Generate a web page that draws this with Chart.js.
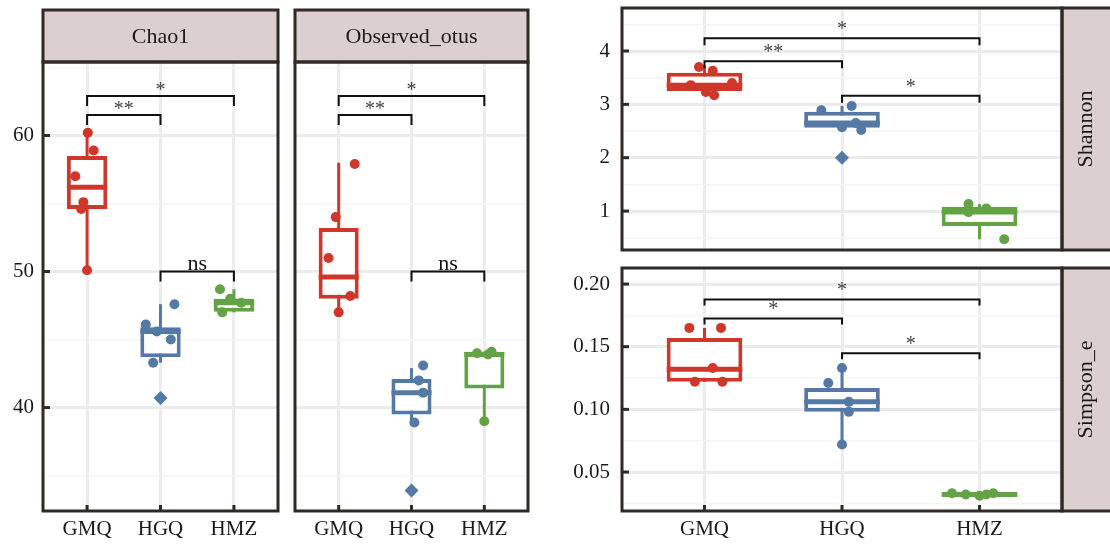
<!DOCTYPE html>
<html>
<head>
<meta charset="utf-8">
<script src="https://cdn.jsdelivr.net/npm/chart.js@4.4.0/dist/chart.umd.min.js"></script>
<style>
  body { margin: 0; background: #fff; }
  #wrap { position: relative; width: 1110px; height: 545px; overflow: hidden; }
  canvas { position: absolute; }
</style>
</head>
<body>
<div id="wrap">
  <canvas id="chao" width="285" height="545" style="left:0px;top:0px;width:285px;height:545px"></canvas>
  <canvas id="otus" width="250" height="545" style="left:285px;top:0px;width:250px;height:545px"></canvas>
  <canvas id="shannon" width="570" height="258" style="left:540px;top:0px;width:570px;height:258px"></canvas>
  <canvas id="simpson" width="570" height="287" style="left:540px;top:258px;width:570px;height:287px"></canvas>
</div>
<script>
const groups = ['GMQ', 'HGQ', 'HMZ'];
const groupColors = ['#d1362a', '#5479a4', '#63a346'];

// box stats per group: [lower whisker, q1, median, q3, upper whisker]
const chaoStats = [[50.1, 54.6, 56.2, 58.5, 60.2], [43.3, 43.7, 45.6, 45.9, 47.6], [47.0, 47.05, 47.7, 48.0, 48.7]];
const chaoPoints = [[60.2, 58.9, 57.0, 55.1, 54.6, 50.1], [47.6, 46.1, 45.0, 43.3, 45.6], [48.7, 47.0, 47.7, 48.0]];
const chaoJitter = [[0.01, 0.09, -0.16, -0.05, -0.08, 0], [0.19, -0.2, 0.14, -0.1, -0.05], [-0.19, -0.16, 0.1, -0.05]];
const chaoOutliers = [[], [40.7], []];

const otusStats = [[47.0, 48.0, 49.6, 53.2, 58.0], [38.9, 39.5, 41.1, 42.1, 42.9], [39.0, 41.4, 43.9, 44.1, 44.1]];
const otusPoints = [[57.9, 54.0, 51.0, 48.2, 47.0], [43.1, 42.0, 41.1, 38.9], [44.0, 44.1, 43.9, 39.0]];
const otusJitter = [[0.22, -0.04, -0.14, 0.16, 0], [0.16, 0.1, 0.16, 0.04], [-0.1, 0.1, 0.05, 0]];
const otusOutliers = [[], [33.9], []];

const shannonStats = [[3.17, 3.25, 3.36, 3.59, 3.72], [2.52, 2.56, 2.65, 2.86, 2.97], [0.47, 0.72, 0.98, 1.08, 1.13]];
const shannonPoints = [[3.70, 3.63, 3.17, 3.23, 3.40, 3.36], [2.89, 2.97, 2.52, 2.57, 2.65], [1.13, 0.98, 0.47, 1.05]];
const shannonJitter = [[-0.04, 0.06, 0.07, 0.01, 0.2, -0.1], [-0.15, 0.07, 0.14, 0, 0.1], [-0.08, -0.08, 0.18, 0.05]];
const shannonOutliers = [[], [2.0], []];

const simpsonStats = [[0.122, 0.122, 0.132, 0.157, 0.165], [0.072, 0.098, 0.106, 0.117, 0.133], [0.030, 0.031, 0.032, 0.033, 0.034]];
const simpsonPoints = [[0.165, 0.165, 0.133, 0.122, 0.122], [0.133, 0.121, 0.106, 0.098, 0.072], [0.033, 0.032, 0.031, 0.032, 0.033]];
const simpsonJitter = [[-0.11, 0.12, 0.06, -0.07, 0.13], [0, -0.1, 0.05, 0.05, 0], [-0.2, -0.1, 0, 0.05, 0.1]];
const simpsonOutliers = [[], [], []];

// tick values and labels
const chaoTicks = [40, 50, 60];
const chaoTickLabels = ['40', '50', '60'];
const chaoMinor = [35, 45, 55, 65];
const shannonTicks = [1, 2, 3, 4];
const shannonTickLabels = ['1', '2', '3', '4'];
const shannonMinor = [0.5, 1.5, 2.5, 3.5, 4.5];
const simpsonTicks = [0.05, 0.10, 0.15, 0.20];
const simpsonTickLabels = ['0.05', '0.10', '0.15', '0.20'];
const simpsonMinor = [0.025, 0.075, 0.125, 0.175];

// significance brackets: [from group, to group, height, label]
const chaoSig = [[0, 1, 61.5, '**'], [0, 2, 62.9, '*'], [1, 2, 50.0, 'ns']];
const otusSig = [[0, 1, 61.5, '**'], [0, 2, 62.9, '*'], [1, 2, 50.0, 'ns']];
const shannonSig = [[0, 1, 3.81, '**'], [0, 2, 4.24, '*'], [1, 2, 3.16, '*']];
const simpsonSig = [[0, 1, 0.1726, '*'], [0, 2, 0.1877, '*'], [1, 2, 0.1447, '*']];

const SERIF = "'Liberation Serif', 'Times New Roman', serif";
const DARK = '#2e2b27';
const STRIP = '#dccfcf';

function panelPlugin(cfg) {
  return {
    id: 'panel_' + cfg.strip,
    beforeDatasetsDraw(chart) {
      const ctx = chart.ctx, xs = chart.scales.x, ys = chart.scales.y;
      ctx.save();
      ctx.lineWidth = 3;
      cfg.stats.forEach((s, g) => {
        const x = xs.getPixelForValue(g);
        ctx.strokeStyle = groupColors[g];
        ctx.beginPath();
        ctx.moveTo(x, ys.getPixelForValue(s[0]));
        ctx.lineTo(x, ys.getPixelForValue(s[4]));
        ctx.stroke();
      });
      ctx.restore();
    },
    afterDatasetDraw(chart, args) {
      if (args.meta.type !== 'bar') return;
      const ctx = chart.ctx, ys = chart.scales.y;
      ctx.save();
      ctx.lineWidth = 5;
      args.meta.data.forEach((bar, g) => {
        const y = ys.getPixelForValue(cfg.stats[g][2]);
        ctx.strokeStyle = groupColors[g];
        ctx.beginPath();
        ctx.moveTo(bar.x - bar.width / 2, y);
        ctx.lineTo(bar.x + bar.width / 2, y);
        ctx.stroke();
      });
      ctx.restore();
    },
    afterDraw(chart) {
      const ctx = chart.ctx, a = chart.chartArea, xs = chart.scales.x, ys = chart.scales.y;
      ctx.save();
      // brackets
      ctx.strokeStyle = '#111';
      ctx.lineWidth = 2;
      cfg.sig.forEach(([g1, g2, v, label]) => {
        const x1 = xs.getPixelForValue(g1), x2 = xs.getPixelForValue(g2), y = ys.getPixelForValue(v);
        ctx.beginPath();
        ctx.moveTo(x1, y + cfg.tip);
        ctx.lineTo(x1, y);
        ctx.lineTo(x2, y);
        ctx.lineTo(x2, y + cfg.tip);
        ctx.stroke();
        ctx.fillStyle = label === 'ns' ? '#111' : '#444';
        ctx.font = (label === 'ns' ? '22px ' : '20px ') + SERIF;
        ctx.textAlign = 'center';
        ctx.textBaseline = 'alphabetic';
        ctx.fillText(label, (x1 + x2) / 2, y - (label === 'ns' ? 2 : cfg.starLift));
      });
      // strip
      ctx.lineWidth = 3;
      ctx.strokeStyle = DARK;
      ctx.fillStyle = STRIP;
      if (cfg.side === 'top') {
        ctx.fillRect(a.left, cfg.stripTop, a.right - a.left, a.top - cfg.stripTop);
        ctx.strokeRect(a.left, cfg.stripTop, a.right - a.left, a.top - cfg.stripTop);
        ctx.fillStyle = '#1a1a1a';
        ctx.font = '22px ' + SERIF;
        ctx.textAlign = 'center';
        ctx.textBaseline = 'middle';
        ctx.fillText(cfg.strip, (a.left + a.right) / 2, (cfg.stripTop + a.top) / 2 + 1);
      } else {
        const w = chart.width - a.right + 4;
        ctx.fillRect(a.right, a.top, w, a.bottom - a.top);
        ctx.strokeRect(a.right, a.top, w, a.bottom - a.top);
        ctx.fillStyle = '#1a1a1a';
        ctx.font = '22px ' + SERIF;
        ctx.textAlign = 'center';
        ctx.textBaseline = 'middle';
        ctx.translate(a.right + 24, (a.top + a.bottom) / 2);
        ctx.rotate(-Math.PI / 2);
        ctx.fillText(cfg.strip, 0, 0);
        ctx.setTransform(1, 0, 0, 1, 0, 0);
      }
      // panel frame
      ctx.strokeStyle = DARK;
      ctx.lineWidth = 3;
      ctx.strokeRect(a.left, a.top, a.right - a.left, a.bottom - a.top);
      // inward tick marks
      if (cfg.yTicks) {
        cfg.ticks.forEach(v => {
          const y = ys.getPixelForValue(v);
          ctx.beginPath();
          ctx.moveTo(a.left, y);
          ctx.lineTo(a.left + 7, y);
          ctx.stroke();
        });
      }
      if (cfg.xTicks) {
        groups.forEach((g, i) => {
          const x = xs.getPixelForValue(i);
          ctx.beginPath();
          ctx.moveTo(x, a.bottom);
          ctx.lineTo(x, a.bottom - 6);
          ctx.stroke();
        });
      }
      ctx.restore();
    }
  };
}

function boxChart(id, cfg) {
  const allTicks = cfg.ticks.concat(cfg.minor);
  const majorIndex = v => cfg.ticks.findIndex(m => Math.abs(m - v) < 1e-9);
  const datasets = [];
  cfg.points.forEach((vals, g) => {
    datasets.push({
      type: 'scatter', order: 1,
      data: vals.map((v, k) => ({ x: g + cfg.jitter[g][k], y: v })),
      backgroundColor: groupColors[g], borderWidth: 0, pointRadius: 5
    });
  });
  cfg.outliers.forEach((vals, g) => {
    datasets.push({
      type: 'scatter', order: 0,
      data: vals.map(v => ({ x: g, y: v })),
      backgroundColor: groupColors[g], borderWidth: 0, pointRadius: 7, pointStyle: 'rectRot'
    });
  });
  datasets.push({
    type: 'bar', order: 2,
    data: cfg.stats.map((s, g) => ({ x: g, y: [s[1], s[3]] })),
    backgroundColor: '#ffffff', borderColor: groupColors, borderWidth: 4,
    borderSkipped: false, barPercentage: 0.55, categoryPercentage: 1, grouped: false
  });

  return new Chart(document.getElementById(id), {
    type: 'bar',
    data: { datasets: datasets },
    options: {
      responsive: false,
      animation: false,
      devicePixelRatio: 1,
      layout: { padding: cfg.padding },
      plugins: { legend: { display: false }, tooltip: { enabled: false } },
      scales: {
        x: {
          type: 'linear', min: -0.6, max: 2.6, offset: false,
          afterBuildTicks: s => { s.ticks = groups.map((g, i) => ({ value: i })); },
          afterFit: s => { s.height = cfg.xHeight; s.paddingLeft = 0; s.paddingRight = 0; },
          grid: { offset: false, color: '#ececec', lineWidth: 3, drawTicks: false },
          border: { display: false },
          ticks: {
            display: cfg.xLabels, padding: 6, color: '#1a1a1a',
            font: { family: SERIF, size: 21 },
            callback: v => groups[v]
          }
        },
        y: {
          type: 'linear', min: cfg.yMin, max: cfg.yMax,
          afterBuildTicks: s => { s.ticks = allTicks.map(v => ({ value: v })); },
          afterFit: s => { s.width = cfg.yWidth; s.paddingTop = 0; s.paddingBottom = 0; },
          grid: {
            drawTicks: false,
            color: c => majorIndex(c.tick.value) >= 0 ? '#ebebeb' : '#f4f4f4',
            lineWidth: c => majorIndex(c.tick.value) >= 0 ? 3 : 1.5
          },
          border: { display: false },
          ticks: {
            display: cfg.yLabels, padding: cfg.yPad, color: '#1a1a1a',
            font: { family: SERIF, size: 21 },
            callback: v => { const i = majorIndex(v); return i >= 0 ? cfg.tickLabels[i] : ''; }
          }
        }
      }
    },
    plugins: [panelPlugin(cfg)]
  });
}

boxChart('chao', {
  stats: chaoStats, points: chaoPoints, jitter: chaoJitter, outliers: chaoOutliers,
  ticks: chaoTicks, tickLabels: chaoTickLabels, minor: chaoMinor, yMin: 32.4, yMax: 65.4,
  sig: chaoSig, tip: 10, starLift: 0, strip: 'Chao1', side: 'top', stripTop: 10,
  padding: { top: 62, right: 6, left: 0, bottom: 0 }, yWidth: 43, xHeight: 34,
  xLabels: true, yLabels: true, yPad: 9, xTicks: true, yTicks: true
});

boxChart('otus', {
  stats: otusStats, points: otusPoints, jitter: otusJitter, outliers: otusOutliers,
  ticks: chaoTicks, tickLabels: chaoTickLabels, minor: chaoMinor, yMin: 32.4, yMax: 65.4,
  sig: otusSig, tip: 10, starLift: 0, strip: 'Observed_otus', side: 'top', stripTop: 10,
  padding: { top: 62, right: 5, left: 0, bottom: 0 }, yWidth: 10, xHeight: 34,
  xLabels: true, yLabels: false, yPad: 9, xTicks: true, yTicks: false
});

boxChart('shannon', {
  stats: shannonStats, points: shannonPoints, jitter: shannonJitter, outliers: shannonOutliers,
  ticks: shannonTicks, tickLabels: shannonTickLabels, minor: shannonMinor, yMin: 0.27, yMax: 4.806,
  sig: shannonSig, tip: 7, starLift: 3, strip: 'Shannon', side: 'right',
  padding: { top: 8, right: 48, left: 0, bottom: 0 }, yWidth: 82, xHeight: 8,
  xLabels: false, yLabels: true, yPad: 12, xTicks: false, yTicks: true
});

boxChart('simpson', {
  stats: simpsonStats, points: simpsonPoints, jitter: simpsonJitter, outliers: simpsonOutliers,
  ticks: simpsonTicks, tickLabels: simpsonTickLabels, minor: simpsonMinor, yMin: 0.0189, yMax: 0.2128,
  sig: simpsonSig, tip: 6, starLift: 3, strip: 'Simpson_e', side: 'right',
  padding: { top: 10, right: 48, left: 0, bottom: 0 }, yWidth: 82, xHeight: 34,
  xLabels: true, yLabels: true, yPad: 12, xTicks: true, yTicks: true
});
</script>
</body>
</html>
